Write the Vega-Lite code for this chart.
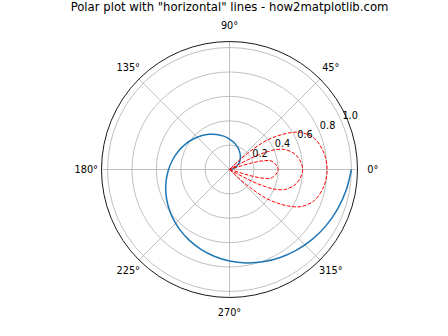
{
  "$schema": "https://vega.github.io/schema/vega-lite/v6.json",
  "width": 256,
  "height": 256,
  "autosize": {"type": "none"},
  "padding": {"left": 101.5, "top": 41.5, "right": 90.5, "bottom": 38.5},
  "background": "white",
  "title": {
    "text": "Polar plot with \"horizontal\" lines - how2matplotlib.com",
    "font": "DejaVu Sans",
    "fontSize": 11.67,
    "fontWeight": "normal",
    "color": "black",
    "anchor": "middle",
    "frame": "group",
    "baseline": "alphabetic",
    "offset": -1
  },
  "config": {"view": {"stroke": null}},
  "datasets": {
    "rings": [{"r": 0.2}, {"r": 0.4}, {"r": 0.6}, {"r": 0.8}, {"r": 1.0}],
    "spokes": [{"a": 0}, {"a": 45}, {"a": 90}, {"a": 135}, {"a": 180}, {"a": 225}, {"a": 270}, {"a": 315}],
    "anglelabels": [
      {"a": 0, "label": "0°"}, {"a": 45, "label": "45°"}, {"a": 90, "label": "90°"}, {"a": 135, "label": "135°"},
      {"a": 180, "label": "180°"}, {"a": 225, "label": "225°"}, {"a": 270, "label": "270°"}, {"a": 315, "label": "315°"}
    ],
    "rlabels": [
      {"r": 0.2, "label": "0.2"}, {"r": 0.4, "label": "0.4"}, {"r": 0.6, "label": "0.6"}, {"r": 0.8, "label": "0.8"}, {"r": 1.0, "label": "1.0"}
    ],
    "spiral": [
      {"t": 0, "r": 0}, {"t": 10, "r": 0.0278}, {"t": 20, "r": 0.0556}, {"t": 30, "r": 0.0833},
      {"t": 40, "r": 0.1111}, {"t": 50, "r": 0.1389}, {"t": 60, "r": 0.1667}, {"t": 70, "r": 0.1944},
      {"t": 80, "r": 0.2222}, {"t": 90, "r": 0.25}, {"t": 100, "r": 0.2778}, {"t": 110, "r": 0.3056},
      {"t": 120, "r": 0.3333}, {"t": 130, "r": 0.3611}, {"t": 140, "r": 0.3889}, {"t": 150, "r": 0.4167},
      {"t": 160, "r": 0.4444}, {"t": 170, "r": 0.4722}, {"t": 180, "r": 0.5}, {"t": 190, "r": 0.5278},
      {"t": 200, "r": 0.5556}, {"t": 210, "r": 0.5833}, {"t": 220, "r": 0.6111}, {"t": 230, "r": 0.6389},
      {"t": 240, "r": 0.6667}, {"t": 250, "r": 0.6944}, {"t": 260, "r": 0.7222}, {"t": 270, "r": 0.75},
      {"t": 280, "r": 0.7778}, {"t": 290, "r": 0.8056}, {"t": 300, "r": 0.8333}, {"t": 310, "r": 0.8611},
      {"t": 320, "r": 0.8889}, {"t": 330, "r": 0.9167}, {"t": 340, "r": 0.9444}, {"t": 350, "r": 0.9722},
      {"t": 360, "r": 1.0}
    ],
    "loops": [
      {"loop": "c", "t": -44, "r": 0}, {"loop": "c", "t": -43, "r": 0.1}, {"loop": "c", "t": -41.7, "r": 0.2},
      {"loop": "c", "t": -40, "r": 0.3}, {"loop": "c", "t": -37.7, "r": 0.4}, {"loop": "c", "t": -35, "r": 0.48},
      {"loop": "c", "t": -32, "r": 0.563}, {"loop": "c", "t": -27.5, "r": 0.66}, {"loop": "c", "t": -20, "r": 0.742},
      {"loop": "c", "t": -12, "r": 0.78}, {"loop": "c", "t": -6, "r": 0.795}, {"loop": "c", "t": 0, "r": 0.8},
      {"loop": "c", "t": 6, "r": 0.795}, {"loop": "c", "t": 12, "r": 0.78}, {"loop": "c", "t": 20, "r": 0.742},
      {"loop": "c", "t": 27.5, "r": 0.66}, {"loop": "c", "t": 32, "r": 0.563}, {"loop": "c", "t": 35, "r": 0.48},
      {"loop": "c", "t": 37.7, "r": 0.4}, {"loop": "c", "t": 40, "r": 0.3}, {"loop": "c", "t": 41.7, "r": 0.2},
      {"loop": "c", "t": 43, "r": 0.1}, {"loop": "c", "t": 44, "r": 0},
      {"loop": "b", "t": -30, "r": 0}, {"loop": "b", "t": -29, "r": 0.08}, {"loop": "b", "t": -28, "r": 0.17},
      {"loop": "b", "t": -27, "r": 0.25}, {"loop": "b", "t": -25, "r": 0.35}, {"loop": "b", "t": -23, "r": 0.42},
      {"loop": "b", "t": -20, "r": 0.48}, {"loop": "b", "t": -14, "r": 0.545}, {"loop": "b", "t": -8, "r": 0.58},
      {"loop": "b", "t": 0, "r": 0.6}, {"loop": "b", "t": 8, "r": 0.58}, {"loop": "b", "t": 14, "r": 0.545},
      {"loop": "b", "t": 20, "r": 0.48}, {"loop": "b", "t": 23, "r": 0.42}, {"loop": "b", "t": 25, "r": 0.35},
      {"loop": "b", "t": 27, "r": 0.25}, {"loop": "b", "t": 28, "r": 0.17}, {"loop": "b", "t": 29, "r": 0.08},
      {"loop": "b", "t": 30, "r": 0},
      {"loop": "a", "t": -17.5, "r": 0}, {"loop": "a", "t": -17, "r": 0.1}, {"loop": "a", "t": -16.5, "r": 0.17},
      {"loop": "a", "t": -15.5, "r": 0.25}, {"loop": "a", "t": -14, "r": 0.3}, {"loop": "a", "t": -11.7, "r": 0.348},
      {"loop": "a", "t": -5.6, "r": 0.384}, {"loop": "a", "t": 0, "r": 0.4}, {"loop": "a", "t": 5.6, "r": 0.384},
      {"loop": "a", "t": 11.7, "r": 0.348}, {"loop": "a", "t": 14, "r": 0.3}, {"loop": "a", "t": 15.5, "r": 0.25},
      {"loop": "a", "t": 16.5, "r": 0.17}, {"loop": "a", "t": 17, "r": 0.1}, {"loop": "a", "t": 17.5, "r": 0}
    ]
  },
  "layer": [
    {
      "data": {"name": "rings"},
      "transform": [{"calculate": "0", "as": "o"}],
      "mark": {"type": "point", "shape": "circle", "filled": false, "stroke": "#b0b0b0", "strokeWidth": 0.8, "opacity": 1},
      "encoding": {
        "x": {"field": "o", "type": "quantitative", "scale": {"domain": [-1.05, 1.05], "nice": false, "zero": false}, "axis": null},
        "y": {"field": "o", "type": "quantitative", "scale": {"domain": [-1.05, 1.05], "nice": false, "zero": false}, "axis": null},
        "size": {"field": "r", "type": "quantitative", "scale": {"type": "pow", "exponent": 2, "domain": [0, 1.05], "range": [0, 65536]}, "legend": null}
      }
    },
    {
      "data": {"name": "spokes"},
      "transform": [
        {"calculate": "0", "as": "o"},
        {"calculate": "1.05 * cos(datum.a * PI / 180)", "as": "ex"},
        {"calculate": "1.05 * sin(datum.a * PI / 180)", "as": "ey"}
      ],
      "mark": {"type": "rule", "stroke": "#b0b0b0", "strokeWidth": 0.8},
      "encoding": {
        "x": {"field": "o", "type": "quantitative"},
        "y": {"field": "o", "type": "quantitative"},
        "x2": {"field": "ex"},
        "y2": {"field": "ey"}
      }
    },
    {
      "data": {"name": "spiral"},
      "transform": [
        {"calculate": "datum.r * cos(datum.t * PI / 180)", "as": "px"},
        {"calculate": "datum.r * sin(datum.t * PI / 180)", "as": "py"}
      ],
      "mark": {"type": "line", "color": "#1f77b4", "strokeWidth": 1.5, "interpolate": "catmull-rom"},
      "encoding": {
        "x": {"field": "px", "type": "quantitative"},
        "y": {"field": "py", "type": "quantitative"},
        "order": {"field": "t", "type": "quantitative"}
      }
    },
    {
      "data": {"name": "loops"},
      "transform": [
        {"calculate": "datum.r * cos(datum.t * PI / 180)", "as": "px"},
        {"calculate": "datum.r * sin(datum.t * PI / 180)", "as": "py"}
      ],
      "mark": {"type": "line", "color": "#ff0000", "strokeWidth": 1, "strokeDash": [3.7, 1.6], "interpolate": "catmull-rom"},
      "encoding": {
        "x": {"field": "px", "type": "quantitative"},
        "y": {"field": "py", "type": "quantitative"},
        "detail": {"field": "loop", "type": "nominal"},
        "order": {"field": "t", "type": "quantitative"}
      }
    },
    {
      "data": {"values": [{"r": 1.05}]},
      "transform": [{"calculate": "0", "as": "o"}],
      "mark": {"type": "point", "shape": "circle", "filled": false, "stroke": "black", "strokeWidth": 0.9, "opacity": 1},
      "encoding": {
        "x": {"field": "o", "type": "quantitative"},
        "y": {"field": "o", "type": "quantitative"},
        "size": {"field": "r", "type": "quantitative", "scale": {"type": "pow", "exponent": 2, "domain": [0, 1.05], "range": [0, 65536]}, "legend": null}
      }
    },
    {
      "data": {"name": "anglelabels"},
      "transform": [
        {"calculate": "1.175 * cos(datum.a * PI / 180)", "as": "lx"},
        {"calculate": "1.175 * sin(datum.a * PI / 180)", "as": "ly"}
      ],
      "mark": {"type": "text", "font": "DejaVu Sans", "fontSize": 9.72, "color": "black", "align": "center", "baseline": "middle"},
      "encoding": {
        "x": {"field": "lx", "type": "quantitative"},
        "y": {"field": "ly", "type": "quantitative"},
        "text": {"field": "label"}
      }
    },
    {
      "data": {"name": "rlabels"},
      "transform": [
        {"calculate": "datum.r * cos(22.5 * PI / 180)", "as": "lx"},
        {"calculate": "datum.r * sin(22.5 * PI / 180)", "as": "ly"}
      ],
      "mark": {"type": "text", "font": "DejaVu Sans", "fontSize": 9.72, "color": "black", "align": "center", "baseline": "middle", "dx": 8, "dy": -6.5},
      "encoding": {
        "x": {"field": "lx", "type": "quantitative"},
        "y": {"field": "ly", "type": "quantitative"},
        "text": {"field": "label"}
      }
    }
  ]
}
